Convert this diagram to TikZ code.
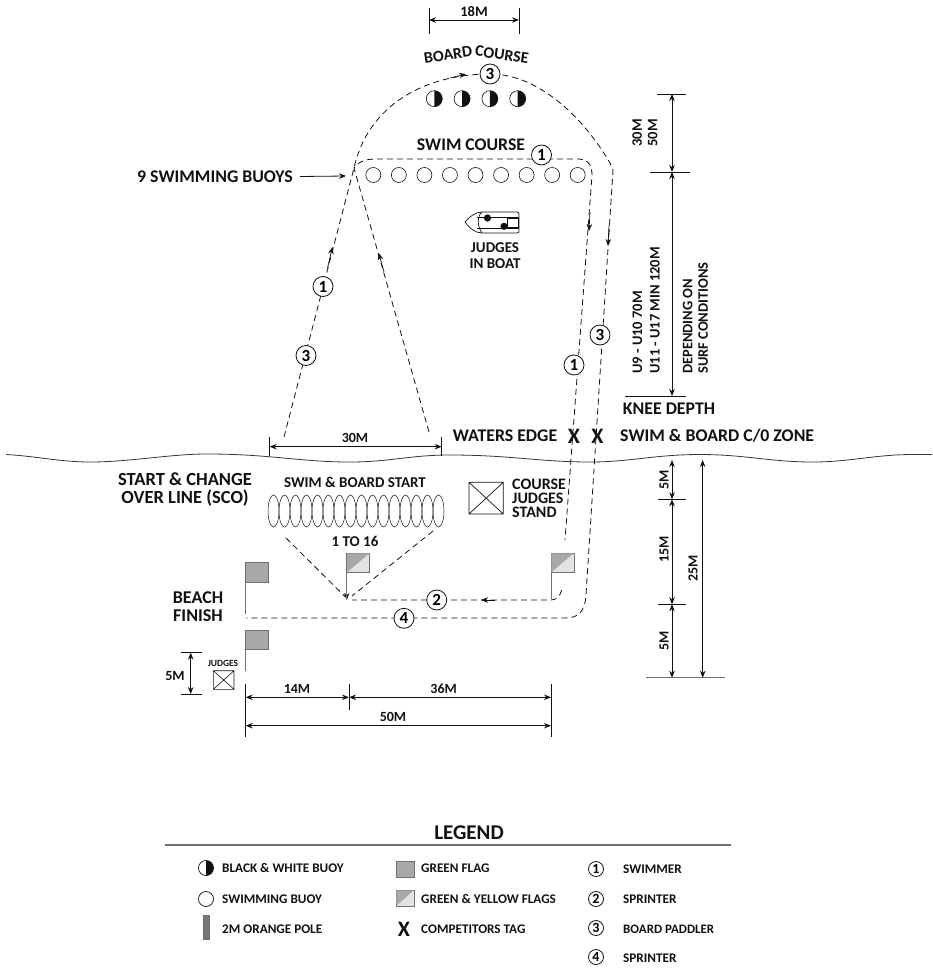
\documentclass[tikz,border=0pt]{standalone}
\usepackage{fontspec}
\setmainfont{Carlito}
\usepackage{tikz}
\usetikzlibrary{positioning,calc,arrows.meta}
\definecolor{cflag}{HTML}{A8A8A8}
\definecolor{clight}{HTML}{E2E2E2}
\definecolor{cink}{HTML}{111111}
\definecolor{crule}{HTML}{707070}
\tikzset{
  txt/.style={font=\fontsize{#1}{#1}\selectfont\bfseries,text=cink,inner sep=0pt,align=center},
  txt/.default=15,
  lefttxt/.style={txt=#1,anchor=west,align=left},
  lefttxt/.default=13.2,
  racer/.style={circle,draw=cink,fill=white,line width=0.8pt,minimum size=20pt,inner sep=0pt,font=\fontsize{17}{17}\selectfont\bfseries},
  minirace/.style={circle,draw=cink,fill=white,line width=0.8pt,minimum size=15pt,inner sep=0pt,font=\fontsize{14}{14}\selectfont\bfseries},
  course/.style={dashed,dash pattern=on 6pt off 4pt,line width=0.8pt,draw=cink},
  dimline/.style={<->,line width=0.8pt,draw=cink},
  tick/.style={line width=0.7pt,draw=cink},
  tagmark/.style={txt=22},
}
% flag with pole, top left corner at #1, foot of pole at y=#2
\newcommand{\greenflag}[2]{
  \fill[cflag,draw=crule,line width=0.8pt] (#1) rectangle ++(23,19.5);
  \draw[line width=0.7pt,crule] (#1) ++(0,19.5) -- ++(0,#2);
}
\newcommand{\yellowflag}[2]{
  \fill[clight,draw=crule,line width=0.8pt] (#1) rectangle ++(23,19.5);
  \fill[cflag] (#1) ++(0.4,19.1) -- ++(0,-18.7) -- ++(22.2,0) -- cycle;
  \draw[line width=0.7pt,crule] (#1) ++(0,19.5) -- ++(0,#2);
}
\begin{document}
\begin{tikzpicture}[x=1pt,y=-1pt,>={Stealth[length=7pt,width=5.5pt]}]
  \useasboundingbox (0,0) rectangle (932,974);
  % shoreline
  \draw[line width=0.8pt,cink!85] (6,454.5) .. controls (35,456) and (60,462) .. (90,462)
    .. controls (130,462) and (170,454) .. (207,454)
    .. controls (270,454) and (300,462) .. (350,462)
    .. controls (390,462) and (410,455) .. (450,455)
    .. controls (510,455) and (540,462) .. (590,462)
    .. controls (630,462) and (655,454.5) .. (700,454.5)
    .. controls (745,454.5) and (770,462) .. (813,462)
    .. controls (850,462) and (875,454.5) .. (913,454.5) -- (932,454.5);

  % turning points of the courses
  \coordinate (turnL) at (354,168);
  \coordinate (swimTR) at (592,175);
  \coordinate (boardTR) at (613,170);
  \coordinate (feet) at (346.7,600);

  % board course and run home
  \draw[course] (284,437) -- (turnL) .. controls (368,105) and (425,74) .. (490,74)
    .. controls (540,74) and (585,120) .. (610,163) -- (boardTR)
    -- (586,595) .. controls (585,612) and (578,618) .. (565,618) -- (246,618);
  % swim course
  \draw[course] (429,432) -- (turnL) .. controls (358,162) and (365,159) .. (376,159) -- (578,159)
    .. controls (588,159) and (592,165) .. (swimTR) -- (565,540);
  % sprint
  \draw[course] (561.7,590) .. controls (560,596) and (557,600) .. (551,600) -- (352,600);
  \draw[course] (286,538) -- (345.5,597);
  \draw[course] (433,531) -- (352,596);

  % arrow heads on the courses
  \draw[->,cink,line width=0.7pt] (327.5,268) -- (332.5,247);
  \draw[->,cink,line width=0.7pt] (384,272) -- (378.7,253);
  \draw[->,cink,line width=0.7pt] (590,212) -- (589,231);
  \draw[->,cink,line width=0.7pt] (609,225) -- (608,246);
  \draw[->,cink,line width=0.7pt] (450,78) -- (466,74);
  \draw[->,cink,line width=0.7pt] (495,600) -- (481,600);
  \draw[->,cink,line width=0.7pt] (346.7,592) -- (feet);

  % racers on the courses
  \node[racer] (paddlerTop) at (490,74) {3};
  \node[racer] (swimTop) at (541.5,155) {1};
  \node[racer] (swimUp) at (323,286.5) {1};
  \node[racer] (paddlerUp) at (306,355.5) {3};
  \node[racer] (swimDown) at (574,365) {1};
  \node[racer] (paddlerDown) at (600,335) {3};
  \node[racer] (sprintOne) at (436.7,600) {2};
  \node[racer] (sprintTwo) at (404,618.3) {4};

  % buoys
  \foreach \i in {0,...,8}{
    \draw[cink,line width=0.6pt] (373.3+25.55*\i,175) circle (7.5);
  }
  \foreach \i in {0,...,3}{
    \fill[cink] (434.3+27.8*\i,98.7) ++(0,-8) arc (-90:90:8) -- cycle;
    \draw[cink,line width=0.6pt] (434.3+27.8*\i,98.7) circle (8);
  }

  % boat
  \draw[cink,line width=0.7pt,rounded corners=2pt] (482,212) -- (519,212) -- (519,233) -- (482,233);
  \draw[cink,line width=0.7pt] (482,212) .. controls (476,212) and (470,216) .. (465,222)
    .. controls (470,229) and (476,233) .. (482,233);
  \draw[cink,line width=0.7pt] (477,217) -- (519,217) (477,228) -- (519,228);
  \draw[cink,line width=0.7pt] (482,212) .. controls (477,216) and (477,226) .. (482,233);
  \draw[cink,line width=0.7pt] (507,218) rectangle (518,227);
  \fill[cink] (487.5,218) circle (3.6) (504,226.3) circle (3.6);

  % labels in the water
  \node[txt=17.7] (lblSwim) at (471,145) {SWIM COURSE};
  \node[txt=16,rotate=9] (lblBoardA) at (448,55) {BOARD};
  \node[txt=16,rotate=-8] (lblBoardB) at (502,54.5) {COURSE};
  \node[txt] (lblJudges) at (495,256) {JUDGES\\[1pt]IN BOAT};
  \node[txt=17.8] (lblBuoys) at (215,176.5) {9 SWIMMING BUOYS};
  \coordinate (buoyTip) at (346,176);
  \draw[->,cink,line width=0.8pt] (lblBuoys.east) ++(7,0) -- (buoyTip);

  % top dimension
  \coordinate (topL) at (429,20);
  \coordinate (topR) at (519,20);
  \draw[tick] (429,8) -- (429,34) (519,8) -- (519,34);
  \draw[dimline] (topL) -- (topR);
  \node[txt=14.5] (lblEighteen) at (474,12) {18M};

  % right dimensions, water
  \draw[tick] (657,94) -- (686,94) (650,172) -- (690,172) (625,396) -- (686,396);
  \draw[dimline] (672,94) -- (672,172);
  \draw[dimline] (672,172) -- (672,396);
  \node[txt=14.5,rotate=90] (lblThirty) at (645,133) {30M\\[1pt]50M};
  \node[txt=14.5,rotate=90,anchor=west,align=left] (lblUnine) at (637.5,374) {U9 - U10 70M};
  \node[txt=14.5,rotate=90,anchor=west,align=left] (lblUeleven) at (655,374) {U11 - U17 MIN 120M};
  \node[txt=14.5,rotate=90,anchor=west,align=left] (lblSurf) at (695.5,374) {DEPENDING ON\\[1pt]SURF CONDITIONS};
  \node[txt=17.8] (lblKnee) at (669,409) {KNEE DEPTH};

  % waters edge
  \node[txt=17.8] (lblEdge) at (505,436) {WATERS EDGE};
  \node[tagmark] (tagOne) at (574,436) {X};
  \node[tagmark] (tagTwo) at (597.5,436) {X};
  \node[lefttxt=17.8] (lblZone) at (620,436) {SWIM \& BOARD C/0 ZONE};
  \draw[tick] (269.7,437) -- (269.7,456) (441.7,437) -- (441.7,456);
  \coordinate (widthL) at (269.7,446.7);
  \coordinate (widthR) at (441.7,446.7);
  \draw[dimline] (widthL) -- (widthR);
  \node[txt=14] (lblWidth) at (355,438) {30M};

  % beach
  \node[txt=18.5] (lblSco) at (185,489.5) {START \& CHANGE\\[0pt]OVER LINE (SCO)};
  \node[txt=15] (lblStart) at (355,482) {SWIM \& BOARD START};
  \foreach \i in {0,...,15}{
    \draw[cink,line width=0.5pt] (273.5+11*\i,511) ellipse (5.5 and 16);
  }
  \node[txt=15] (lblPlaces) at (355,541) {1 TO 16};
  \draw[cink,line width=0.7pt] (469,482.3) rectangle (503.3,514) (469,482.3) -- (503.3,514) (469,514) -- (503.3,482.3);
  \node[lefttxt=16] (lblStand) at (512,498.5) {COURSE\\[-2pt]JUDGES\\[-2pt]STAND};
  \node[txt=18] (lblFinish) at (198,606.5) {BEACH\\[0pt]FINISH};
  \yellowflag{346.7,553}{27}
  \yellowflag{551,553}{26}
  \greenflag{245.7,562.7}{32}
  \greenflag{245.7,630}{21}

  % judges
  \node[txt=9.5] (lblSmall) at (223,663) {JUDGES};
  \draw[cink,line width=0.6pt] (213.3,670.7) rectangle (234,689.3) (213.3,670.7) -- (234,689.3) (213.3,689.3) -- (234,670.7);
  \draw[tick] (180.7,652.7) -- (201.7,652.7) (180.7,694) -- (201.7,694);
  \draw[dimline] (190.7,652.7) -- (190.7,694);
  \node[txt=14] (lblFive) at (175,676) {5M};

  % bottom dimensions
  \draw[tick] (245.7,684) -- (245.7,736.7) (349,684) -- (349,710) (551,684) -- (551,736.7);
  \draw[dimline] (245.7,697.3) -- (349,697.3);
  \draw[dimline] (349,697.3) -- (551,697.3);
  \draw[dimline] (245.7,725.7) -- (551,725.7);
  \node[txt=14] (lblFourteen) at (297,689) {14M};
  \node[txt=14] (lblThirtysix) at (443.7,689) {36M};
  \node[txt=14] (lblFifty) at (393,717) {50M};

  % right dimensions, beach
  \draw[tick] (657.7,499.3) -- (685.7,499.3) (657.7,604.3) -- (685.7,604.3);
  \draw[crule,line width=1.1pt] (646,677.7) -- (725.3,677.7);
  \draw[dimline] (672,460) -- (672,499.3);
  \draw[dimline] (672,499.3) -- (672,604.3);
  \draw[dimline] (672,604.3) -- (672,677.7);
  \draw[dimline] (702.7,460) -- (702.7,677.7);
  \node[txt=14,rotate=90] (lblBeachA) at (664,480) {5M};
  \node[txt=14,rotate=90] (lblBeachB) at (664,549) {15M};
  \node[txt=14,rotate=90] (lblBeachC) at (664,641) {5M};
  \node[txt=14,rotate=90] (lblBeachD) at (693,568) {25M};

  % legend
  \node[txt=21] (lblLegend) at (469,833) {LEGEND};
  \draw[crule,line width=1.1pt] (165,845) -- (731,845);
  \fill[cink] (206,860.5) arc (-90:90:7.5) -- cycle;
  \draw[cink,line width=0.7pt] (206,868) circle (7.5);
  \draw[cink,line width=0.7pt] (206,899) circle (7.5);
  \fill[cflag!70!black,draw=crule,line width=0.8pt] (203,915) rectangle (209,939);
  \node[lefttxt] (keyBlack) at (222,868) {BLACK \& WHITE BUOY};
  \node[lefttxt] (keySwim) at (222,899) {SWIMMING BUOY};
  \node[lefttxt] (keyPole) at (222,929) {2M ORANGE POLE};
  \fill[cflag,draw=crule,line width=0.8pt] (396,861) rectangle (414,877);
  \fill[clight,draw=crule,line width=0.8pt] (396,890) rectangle (414,906);
  \fill[cflag] (396.4,905.6) -- (396.4,890.4) -- (413.6,890.4) -- cycle;
  \node[tagmark] (keyMark) at (404,929) {X};
  \node[lefttxt] (keyGreen) at (421,868) {GREEN FLAG};
  \node[lefttxt] (keyYellow) at (421,899) {GREEN \& YELLOW FLAGS};
  \node[lefttxt] (keyTag) at (421,929) {COMPETITORS TAG};
  \node[minirace] (raceOne) at (596,869) {1};
  \node[minirace] (raceTwo) at (596,899) {2};
  \node[minirace] (raceThree) at (596,928) {3};
  \node[minirace] (raceFour) at (596,957) {4};
  \node[lefttxt] (keySwimmer) at (623,869) {SWIMMER};
  \node[lefttxt] (keySprintA) at (623,899) {SPRINTER};
  \node[lefttxt=12.9] (keyPaddler) at (623,929) {BOARD PADDLER};
  \node[lefttxt] (keySprintB) at (623,958) {SPRINTER};
\end{tikzpicture}
\end{document}
